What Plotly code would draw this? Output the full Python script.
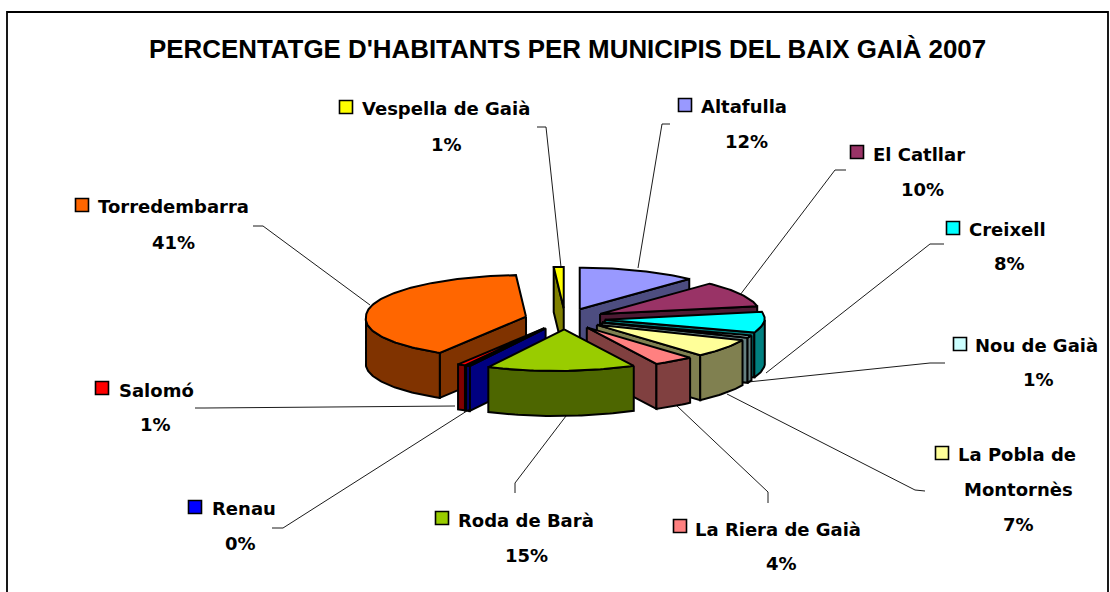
import math
import plotly.graph_objects as go

TITLE = "PERCENTATGE D'HABITANTS PER MUNICIPIS DEL BAIX GAIÀ 2007"
NAMES = ["Altafulla", "El Catllar", "Creixell", "Nou de Gaià", "La Pobla de<br>Montornès",
         "La Riera de Gaià", "Roda de Barà", "Renau", "Salomó", "Torredembarra", "Vespella de Gaià"]
VALUES = [12, 10, 8, 1, 7, 4, 15, 0.4, 0.8, 40.8, 1]
COLORS = ["#9999FF", "#993366", "#00FFFF", "#CCFFFF", "#FFFF99", "#FF8080",
          "#99CC00", "#0000FF", "#FF0000", "#FF6600", "#FFFF00"]
SIDES = ["#4D4D80", "#4D1A33", "#008080", "#668080", "#808050", "#804040",
         "#4D6600", "#000080", "#800000", "#803300", "#808000"]
# Label placement on the page
KEY_POS = [(685, 105), (857, 152), (953, 228), (960, 344), (942, 453), (680, 526),
           (442, 518), (195, 507), (102, 388), (82, 205), (346, 107)]
NAME_POS = [(699, 106), (871, 154), (967, 229), (973, 345), (956, 454), (693, 529),
            (456, 520), (210, 508), (117, 390), (96, 206), (360, 108)]
PCT_POS = [(746, 141), (922, 189), (1009, 263), (1038, 379), (1018, 524), (781, 563),
           (526, 555), (240, 543), (155, 424), (173, 242), (446, 144)]
LEADERS = [[(670, 124), (662, 124), (638, 268)], [(846, 170), (835, 170), (740, 295)],
           [(944, 244), (930, 244), (766, 373)], [(945, 363), (930, 363), (748, 382)],
           [(925, 491), (915, 490), (727, 394)], [(768, 503), (768, 492), (677, 406)],
           [(515, 493), (515, 483), (566, 416)], [(272, 528), (283, 528), (470, 409)],
           [(195, 408), (205, 408), (455, 406)], [(253, 226), (263, 226), (370, 305)],
           [(537, 127), (546, 127), (561, 267)]]

CX, CY, R, K, EXPLODE, DEPTH, SHEAR = 565, 319, 160, 0.26, 40, 45, 8.5
FONT = "DejaVu Sans"
LABEL_SIZE = 18


def pt(apex, theta, r=R, dz=0):
    c = math.cos(theta)
    return (apex[0] + r * math.sin(theta) + SHEAR * min(c, 0) * r / R,
            apex[1] - r * K * c + dz)


def arc(apex, t1, t2, dz=0):
    n = max(2, int(abs(t2 - t1) / 0.02))
    return [pt(apex, t1 + (t2 - t1) * i / n, dz=dz) for i in range(n + 1)]


fig = go.Figure()


def poly(points, fill):
    fig.add_trace(go.Scatter(
        x=[p[0] for p in points] + [points[0][0]],
        y=[p[1] for p in points] + [points[0][1]],
        mode="lines", fill="toself", fillcolor=fill,
        line=dict(color="black", width=2), hoverinfo="skip", showlegend=False))


total = sum(VALUES)
wedges = []
cum = 0
for i, v in enumerate(VALUES):
    t1 = cum / total * 2 * math.pi
    cum += v
    t2 = cum / total * 2 * math.pi
    wedges.append((i, t1, t2, (t1 + t2) / 2))

for i, t1, t2, mid in sorted(wedges, key=lambda w: -math.cos(w[3])):
    apex = pt((CX, CY), mid, EXPLODE)
    if math.sin(t1) < 0:
        e = pt(apex, t1)
        poly([apex, e, (e[0], e[1] + DEPTH), (apex[0], apex[1] + DEPTH)], SIDES[i])
    if math.sin(t2) > 0:
        e = pt(apex, t2)
        poly([apex, e, (e[0], e[1] + DEPTH), (apex[0], apex[1] + DEPTH)], SIDES[i])
    a, b = max(t1, math.pi / 2), min(t2, 1.5 * math.pi)
    if b > a:
        poly(arc(apex, a, b) + arc(apex, b, a, DEPTH), SIDES[i])
    poly([apex] + arc(apex, t1, t2), COLORS[i])

for path in LEADERS:
    fig.add_trace(go.Scatter(x=[p[0] for p in path], y=[p[1] for p in path], mode="lines",
                             line=dict(color="black", width=0.9), hoverinfo="skip", showlegend=False))

fig.add_trace(go.Scatter(
    x=[p[0] for p in KEY_POS], y=[p[1] for p in KEY_POS], mode="markers",
    marker=dict(symbol="square", size=13, color=COLORS, line=dict(color="black", width=1.6)),
    hoverinfo="skip", showlegend=False))

ann = [dict(text="<b>" + TITLE + "</b>", x=567, y=49, showarrow=False, xanchor="center", yanchor="middle",
            font=dict(family="Liberation Sans", size=25.9, color="black"))]
for i, name in enumerate(NAMES):
    first, *rest = name.split("<br>")
    ann.append(dict(text=f"<b>{first}</b>", x=NAME_POS[i][0], y=NAME_POS[i][1], xanchor="left",
                    yanchor="middle", showarrow=False, font=dict(family=FONT, size=LABEL_SIZE, color="black")))
    if rest:
        ann.append(dict(text=f"<b>{rest[0]}</b>", x=PCT_POS[i][0], y=NAME_POS[i][1] + 35, xanchor="center",
                        yanchor="middle", showarrow=False, font=dict(family=FONT, size=LABEL_SIZE, color="black")))
    ann.append(dict(text=f"<b>{round(VALUES[i])}%</b>", x=PCT_POS[i][0], y=PCT_POS[i][1], xanchor="center",
                    yanchor="middle", showarrow=False, font=dict(family=FONT, size=LABEL_SIZE, color="black")))

fig.update_layout(
    width=1110, height=592, margin=dict(l=0, r=0, t=0, b=0),
    paper_bgcolor="white", plot_bgcolor="white", showlegend=False, annotations=ann,
    xaxis=dict(range=[0, 1110], visible=False, fixedrange=True),
    yaxis=dict(range=[592, 0], visible=False, fixedrange=True),
    shapes=[dict(type="rect", x0=7, y0=12, x1=1108, y1=640, line=dict(color="black", width=1.8),
                 layer="below")])
fig.write_html("out.html", config=dict(displayModeBar=False),
               post_script="document.body.style.margin='0';document.body.style.overflow='hidden';")
